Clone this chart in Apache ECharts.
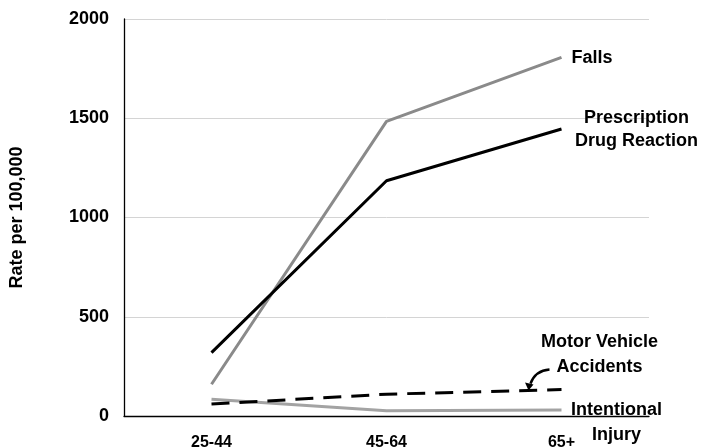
<!DOCTYPE html>
<html>
<head>
<meta charset="utf-8">
<script src="https://cdn.jsdelivr.net/npm/echarts@6/dist/echarts.min.js"></script>
<style>
  html, body { margin: 0; padding: 0; background: #ffffff; }
  #chart { width: 715px; height: 448px; }
</style>
</head>
<body>
<div id="chart"></div>
<script>
// Injury rates per 100,000 by age group
const ageGroups = ['25-44', '45-64', '65+'];
const falls = [160, 1484, 1807];
const drugReaction = [319, 1185, 1446];
const motorVehicle = [60, 110, 133];
const intentionalInjury = [84, 27, 30];
const yTickValues = [0, 500, 1000, 1500, 2000];

const FONT = '"Liberation Sans", Arial, sans-serif';

const chart = echarts.init(document.getElementById('chart'), null, { renderer: 'canvas' });

chart.setOption({
  animation: false,
  backgroundColor: '#ffffff',
  grid: { left: 124, right: 66, top: 19, bottom: 32, containLabel: false, outerBoundsMode: 'none' },
  xAxis: {
    type: 'category',
    data: ageGroups,
    boundaryGap: true,
    axisLine: { show: true, lineStyle: { color: '#000000', width: 1.3 } },
    axisTick: { show: false },
    axisLabel: { color: '#000000', fontFamily: FONT, fontWeight: 'bold', fontSize: 16, margin: 19 },
    splitLine: { show: false }
  },
  yAxis: {
    type: 'value',
    min: yTickValues[0],
    max: yTickValues[yTickValues.length - 1],
    interval: yTickValues[1] - yTickValues[0],
    name: 'Rate per 100,000',
    nameLocation: 'middle',
    nameGap: 98,
    nameTextStyle: { color: '#000000', fontFamily: FONT, fontWeight: 'bold', fontSize: 18 },
    axisLine: { show: true, lineStyle: { color: '#000000', width: 1.3 } },
    axisTick: { show: false },
    axisLabel: {
      color: '#000000', fontFamily: FONT, fontWeight: 'bold', fontSize: 18, margin: 15,
      formatter: function (v) { return String(v); }
    },
    splitLine: { show: true, lineStyle: { color: '#d4d4d4', width: 1 } }
  },
  series: [
    {
      name: 'Falls', type: 'line', data: falls, symbol: 'none',
      lineStyle: { color: '#8a8a8a', width: 3 }, z: 3
    },
    {
      name: 'Prescription Drug Reaction', type: 'line', data: drugReaction, symbol: 'none',
      lineStyle: { color: '#000000', width: 3 }, z: 4
    },
    {
      name: 'Motor Vehicle Accidents', type: 'line', data: motorVehicle, symbol: 'none',
      lineStyle: { color: '#000000', width: 3, type: [18, 10] }, z: 4
    },
    {
      name: 'Intentional Injury', type: 'line', data: intentionalInjury, symbol: 'none',
      lineStyle: { color: '#a3a3a3', width: 3 }, z: 3
    }
  ]
});

// Series labels placed next to the last point of each line
function endPoint(values) {
  return chart.convertToPixel({ gridIndex: 0 }, [ageGroups.length - 1, values[values.length - 1]]);
}
const labelStyle = { fill: '#000000', font: 'bold 18px ' + FONT, textAlign: 'center', textVerticalAlign: 'middle' };

const pFalls = endPoint(falls);
const pDrug = endPoint(drugReaction);
const pMotor = endPoint(motorVehicle);
const pInj = endPoint(intentionalInjury);

// Curved arrow from the "Accidents" label down to the dashed line
const arrowStart = [pMotor[0] - 12, pMotor[1] - 20];
const arrowTip = [pMotor[0] - 33, pMotor[1] + 1];

chart.setOption({
  graphic: [
    {
      type: 'text', x: pFalls[0] + 10, y: pFalls[1] + 1,
      style: Object.assign({}, labelStyle, { text: 'Falls', textAlign: 'left' })
    },
    {
      type: 'text', x: pDrug[0] + 75, y: pDrug[1] + 1,
      style: Object.assign({}, labelStyle, { text: 'Prescription\nDrug Reaction', lineHeight: 23 })
    },
    {
      type: 'text', x: pMotor[0] + 38, y: pMotor[1] - 35,
      style: Object.assign({}, labelStyle, { text: 'Motor Vehicle\nAccidents', lineHeight: 25 })
    },
    {
      type: 'text', x: pInj[0] + 55, y: pInj[1] + 12,
      style: Object.assign({}, labelStyle, { text: 'Intentional\nInjury', lineHeight: 25 })
    },
    {
      type: 'bezierCurve',
      shape: {
        x1: arrowStart[0], y1: arrowStart[1],
        x2: arrowTip[0] + 2, y2: arrowTip[1] - 7,
        cpx1: arrowStart[0] - 14, cpy1: arrowStart[1] + 1
      },
      style: { stroke: '#000000', lineWidth: 2.5, fill: null }
    },
    {
      type: 'polygon',
      shape: {
        points: [
          [arrowTip[0], arrowTip[1]],
          [arrowTip[0] - 3.5, arrowTip[1] - 8],
          [arrowTip[0] + 5, arrowTip[1] - 6]
        ]
      },
      style: { fill: '#000000' }
    }
  ]
});
</script>
</body>
</html>
